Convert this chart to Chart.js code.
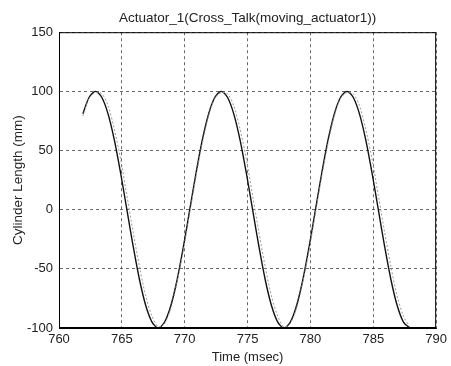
<!DOCTYPE html>
<html lang="en">
<head>
    <meta charset="UTF-8">
    <title>Actuator_1 Cross Talk</title>
    <script src="https://cdn.jsdelivr.net/npm/chart.js"></script>
    <style>
        html, body { margin: 0; padding: 0; background: #fff; }
        #wrap { width: 451px; height: 366px; }
    </style>
</head>
<body>
    <div id="wrap"><canvas id="cylChart"></canvas></div>
    <script>
        // values
        const timeMs = [761.9, 762.4, 762.9, 763.4, 763.9, 764.4, 764.9, 765.4, 765.9, 766.4,
            766.9, 767.4, 767.9, 768.4, 768.9, 769.4, 769.9, 770.4, 770.9, 771.4,
            771.9, 772.4, 772.9, 773.4, 773.9, 774.4, 774.9, 775.4, 775.9, 776.4,
            776.9, 777.4, 777.9, 778.4, 778.9, 779.4, 779.9, 780.4, 780.9, 781.4,
            781.9, 782.4, 782.9, 783.4, 783.9, 784.4, 784.9, 785.4, 785.9, 786.4,
            786.9, 787.4, 787.9];
        const measured = [81, 95, 100, 95, 81, 59, 31, 0, -31, -59,
            -81, -95, -100, -95, -81, -59, -31, 0, 31, 59,
            81, 95, 100, 95, 81, 59, 31, 0, -31, -59,
            -81, -95, -100, -95, -81, -59, -31, 0, 31, 59,
            81, 95, 100, 95, 81, 59, 31, 0, -31, -59,
            -81, -95, -100];
        const reference = [79, 94, 99, 98, 88, 68, 43, 12, -19, -48,
            -73, -90, -99, -96, -83, -61, -34, -3, 28, 56,
            79, 94, 99, 98, 88, 68, 43, 12, -19, -48,
            -73, -90, -99, -96, -83, -61, -34, -3, 28, 56,
            79, 94, 99, 98, 88, 68, 43, 12, -19, -48,
            -73, -90, -99];
        const xTicks = [760, 765, 770, 775, 780, 785, 790];
        const yTicks = [-100, -50, 0, 50, 100, 150];

        const font = 'Liberation Sans, Arial, Helvetica, sans-serif';

        // full box around the plot, like the original
        const boxPlugin = {
            id: 'box',
            afterDraw(chart) {
                const a = chart.chartArea, c = chart.ctx;
                c.save();
                c.strokeStyle = '#000';
                c.lineWidth = 1;
                c.strokeRect(a.left + 0.5, a.top + 0.5, a.right - a.left - 1, a.bottom - a.top - 1);
                c.restore();
            }
        };

        const ctx = document.getElementById('cylChart').getContext('2d');
        new Chart(ctx, {
            type: 'line',
            data: {
                datasets: [
                    {
                        label: 'reference',
                        data: timeMs.map((t, i) => ({ x: t, y: reference[i] })),
                        borderColor: '#999',
                        borderWidth: 1,
                        borderDash: [2, 2],
                        pointRadius: 0,
                        tension: 0.3
                    },
                    {
                        label: 'measured',
                        data: timeMs.map((t, i) => ({ x: t, y: measured[i] })),
                        borderColor: '#111',
                        borderWidth: 1.4,
                        pointRadius: 0,
                        tension: 0.3
                    }
                ]
            },
            options: {
                responsive: true,
                maintainAspectRatio: false,
                animation: false,
                layout: { padding: { right: 10 } },
                plugins: {
                    legend: { display: false },
                    tooltip: { enabled: false },
                    title: {
                        display: true,
                        fullSize: false,
                        text: 'Actuator_1(Cross_Talk(moving_actuator1))',
                        color: '#222',
                        font: { family: font, size: 13.5, weight: 'normal' },
                        padding: { top: 10, bottom: 6 }
                    }
                },
                scales: {
                    x: {
                        type: 'linear',
                        min: 760,
                        max: 790,
                        afterBuildTicks: s => { s.ticks = xTicks.map(v => ({ value: v })); },
                        afterFit: s => { s.height = 38; },
                        ticks: { color: '#222', font: { family: font, size: 13 }, padding: 4, maxRotation: 0 },
                        grid: { color: '#444', lineWidth: 0.8, drawTicks: false, borderDash: [3, 3] },
                        border: { display: true, color: '#000', dash: [3, 3] },
                        title: {
                            display: true,
                            text: 'Time (msec)',
                            color: '#222',
                            font: { family: font, size: 13 },
                            padding: { top: 1, bottom: 1 }
                        }
                    },
                    y: {
                        min: -100,
                        max: 150,
                        afterBuildTicks: s => { s.ticks = yTicks.map(v => ({ value: v })); },
                        afterFit: s => { s.width = 59; },
                        ticks: { color: '#222', font: { family: font, size: 13 }, padding: 6 },
                        grid: { color: '#444', lineWidth: 0.8, drawTicks: false, borderDash: [3, 3] },
                        border: { display: true, color: '#000', dash: [3, 3] },
                        title: {
                            display: true,
                            text: 'Cylinder Length (mm)',
                            color: '#222',
                            font: { family: font, size: 13.5 },
                            padding: { top: 10, bottom: 0 }
                        }
                    }
                }
            },
            plugins: [boxPlugin]
        });
    </script>
</body>
</html>
